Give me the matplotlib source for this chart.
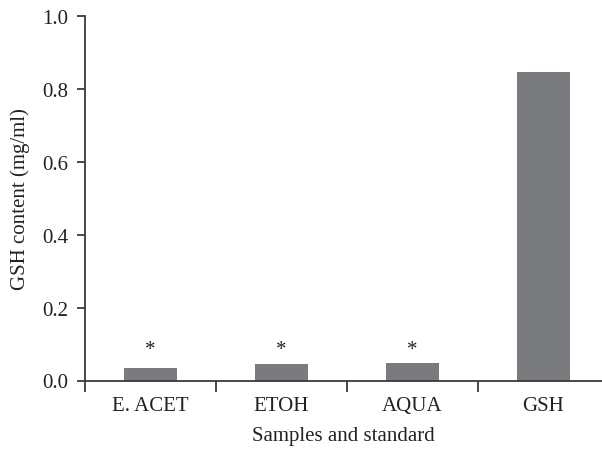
import matplotlib
matplotlib.use("Agg")
import matplotlib.pyplot as plt
import numpy as np

plt.rcParams.update({
    "font.family": "serif",
    "font.serif": ["Liberation Serif", "DejaVu Serif"],
})

samples = ["E. ACET", "ETOH", "AQUA", "GSH"]
gsh_content = [0.035, 0.044, 0.049, 0.846]
significant = [True, True, True, False]

bar_color = "#7a7b7f"
axis_color = "#3a3a3a"
text_color = "#222222"

fig = plt.figure(figsize=(6.02, 4.52), dpi=100)
ax = fig.add_axes([85 / 602, 1 - 381.5 / 452, 517 / 602, 364.5 / 452])

x = np.arange(len(samples))
ax.bar(x, gsh_content, width=0.405, color=bar_color, zorder=2)

for xi, val, sig in zip(x, gsh_content, significant):
    if sig:
        ax.text(xi, 0.058, "*", ha="center", va="bottom", fontsize=15, color=text_color)

ax.set_xlim(-0.5, 3.45)
ax.set_ylim(0, 1.0)
ticks = np.arange(0, 1.01, 0.2)
ax.set_yticks(ticks)
ax.set_yticklabels([f"{v:.1f}" for v in ticks])

# category labels centred, tick marks at the category boundaries
ax.set_xticks(x)
ax.set_xticklabels(samples)
ax.set_xticks(np.arange(-0.5, 3.5, 1.0), minor=True)
ax.tick_params(axis="x", which="major", length=0, pad=11)
ax.tick_params(axis="x", which="minor", length=8, width=1.3, color=axis_color, direction="out")
ax.tick_params(axis="y", length=6, width=1.3, color=axis_color, direction="out", pad=6)
ax.tick_params(axis="both", labelsize=15, labelcolor=text_color)

for side in ["top", "right"]:
    ax.spines[side].set_visible(False)
for side in ["left", "bottom"]:
    ax.spines[side].set_color(axis_color)
    ax.spines[side].set_linewidth(1.3)

ax.set_ylabel("GSH content (mg/ml)", fontsize=15, color=text_color, labelpad=9)
ax.set_xlabel("Samples and standard", fontsize=15, color=text_color, labelpad=8)

fig.savefig("out.png", dpi=100)
